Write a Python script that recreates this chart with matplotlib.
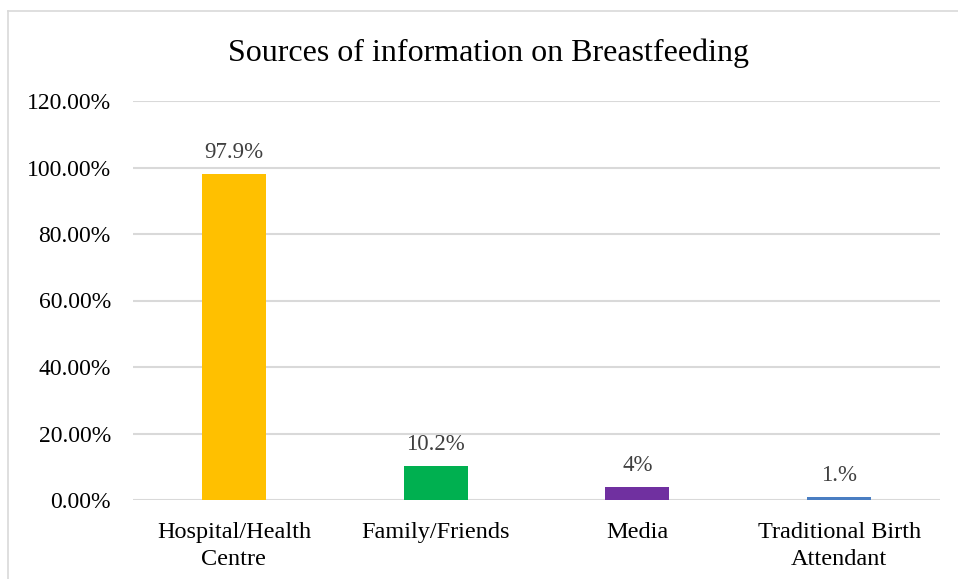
import matplotlib.pyplot as plt
from matplotlib.lines import Line2D
import numpy as np

# Data
sources = ['Hospital/Health\nCentre', 'Family/Friends', 'Media', 'Traditional Birth\nAttendant']
shares = [97.9, 10.2, 4.0, 1.0]
value_labels = ['97.9%', '10.2%', '4%', '1.%']
bar_colors = ['#FFC000', '#00B050', '#7030A0', '#4A7EC2']
y_ticks = [0, 20, 40, 60, 80, 100, 120]

plt.rcParams['font.family'] = ['Liberation Serif', 'DejaVu Serif']

fig = plt.figure(figsize=(9.58, 5.79), dpi=100, facecolor='white')
ax = fig.add_axes([133 / 958, 1 - 500 / 579, (940 - 133) / 958, (500 - 101) / 579])

x = np.arange(len(sources))
ax.bar(x, shares, width=0.317, color=bar_colors, zorder=3)

# Value labels above each bar
for xi, val, lab in zip(x, shares, value_labels):
    ax.annotate(lab, (xi, val), xytext=(0, 8), textcoords='offset points',
                ha='center', va='bottom', fontsize=16.5, color='#404040')

ax.set_xlim(-0.5, len(sources) - 0.5)
ax.set_ylim(0, 120)
ax.set_yticks(y_ticks)
ax.set_yticklabels([f'{t:.2f}%' for t in y_ticks], fontsize=17)
ax.set_xticks(x)
ax.set_xticklabels(sources, fontsize=17.5, linespacing=1.35)

ax.grid(axis='y', color='#D9D9D9', linewidth=1.5, zorder=0)
for side in ['top', 'right', 'left', 'bottom']:
    ax.spines[side].set_visible(False)
ax.tick_params(axis='both', length=0)
ax.tick_params(axis='y', pad=16)
ax.tick_params(axis='x', pad=16)

fig.text(489 / 958, 1 - 53 / 579, 'Sources of information on Breastfeeding',
         ha='center', va='center', fontsize=23)

# Chart frame
fig.add_artist(Line2D([8 / 958, 8 / 958], [0, 1 - 11 / 579], transform=fig.transFigure,
                      color='#D9D9D9', linewidth=1.2))
fig.add_artist(Line2D([8 / 958, 1], [1 - 11 / 579, 1 - 11 / 579], transform=fig.transFigure,
                      color='#D9D9D9', linewidth=1.2))

plt.savefig('out.png', dpi=100, facecolor='white')
